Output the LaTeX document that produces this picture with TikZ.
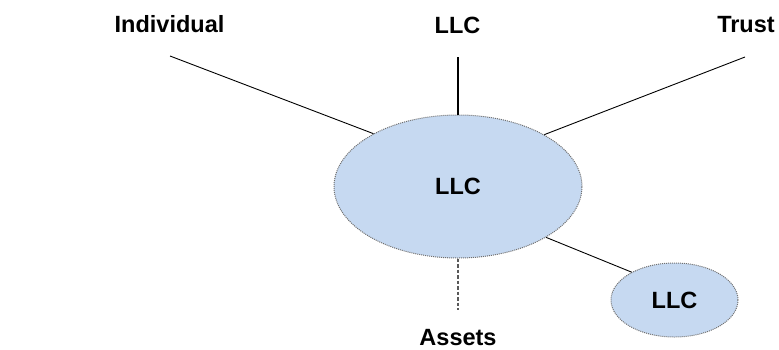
\documentclass[tikz,border=0pt]{standalone}
\usepackage{fontspec}
\setmainfont{Liberation Sans}
\usetikzlibrary{shapes.geometric}
\definecolor{llcfill}{HTML}{C6D9F1}
\definecolor{llcedge}{HTML}{707070}
\begin{document}
\begin{tikzpicture}[x=1pt,y=-1pt,
  lbl/.style={font=\fontsize{23.5}{27}\selectfont\bfseries, inner sep=0pt, anchor=base},
  llcbox/.style={ellipse, fill=llcfill, draw=llcedge, densely dotted, line width=1pt, inner sep=0pt,
     font=\fontsize{23.5}{27}\selectfont\bfseries},
  link/.style={draw=black, line width=0.9pt},
  thicklink/.style={draw=black, line width=1.8pt},
  dashlink/.style={draw=black!65, line width=1.3pt, dash pattern=on 3.5pt off 2pt}]
\useasboundingbox (0,0) rectangle (779,349);
\node[lbl] (ind) at (169.5,32) {Individual};
\node[lbl] (llctop) at (457.5,33) {LLC};
\node[lbl] (trust) at (746,32) {Trust};
\node[lbl] (assets) at (458,345) {Assets};
\node[llcbox, minimum width=248pt, minimum height=143pt] (main) at (458,186.5) {LLC};
\node[llcbox, minimum width=127pt, minimum height=74pt] (sub) at (674.5,300) {LLC};
\coordinate (indend) at (170,56);
\coordinate (llcend) at (458,57);
\coordinate (trustend) at (745,57);
\coordinate (assetend) at (458,310);
\draw[link] (indend) -- (main.148.7);
\draw[thicklink] (llcend) -- (main.north);
\draw[link] (trustend) -- (main.31);
\draw[link] (main.-30) -- (sub.147);
\draw[dashlink] (main.south) -- (assetend);
\end{tikzpicture}
\end{document}
